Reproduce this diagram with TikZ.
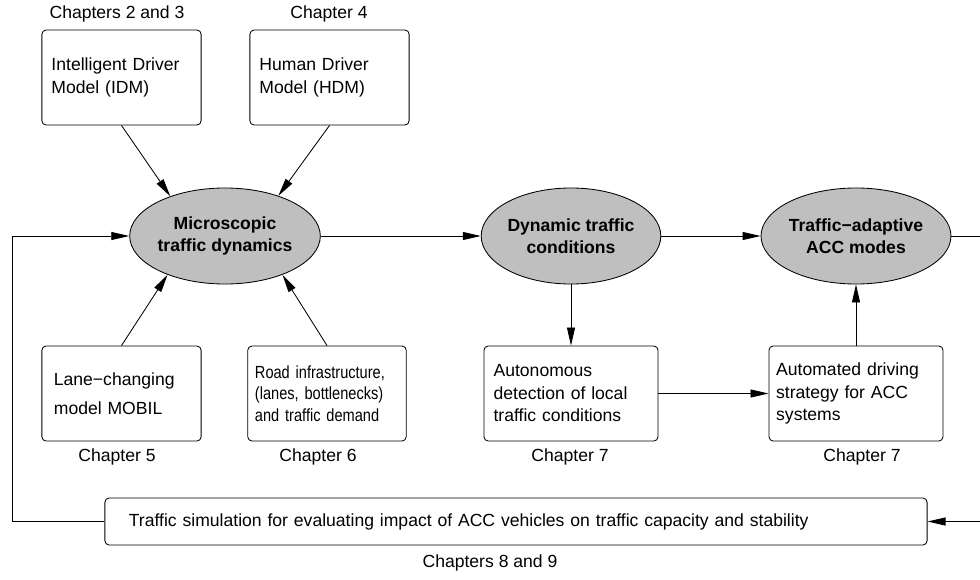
\documentclass[tikz,border=0pt]{standalone}
\usepackage{fontspec}
\setmainfont{Liberation Sans}
\newfontfamily\narrowfont[FakeStretch=0.83]{Liberation Sans}
\usetikzlibrary{arrows.meta,positioning,shapes.geometric}

\begin{document}
\begin{tikzpicture}[
  x=0.025cm, y=-0.025cm,
  font=\fontsize{12.5}{16}\selectfont,
  box/.style={rounded corners=3pt, draw, line width=0.6pt, minimum height=2.375cm, text width=3.5cm, inner xsep=0.24cm, align=left},
  wbox/.style={box, text width=3.87cm},
  ell/.style={ellipse, draw, line width=0.6pt, fill=black!25, minimum width=4.35cm, minimum height=2.4cm, inner sep=0pt, align=center, font=\fontsize{12.5}{15.5}\selectfont\bfseries},
  rel/.style={-{Triangle[length=0.45cm,width=0.2cm]}, line width=0.6pt},
]
\useasboundingbox (0,0) rectangle (980,579);

% model boxes
\node[box] (idm) at (121.5,77.5) {Intelligent Driver\\Model (IDM)};
\node[box] (hdm) at (329.5,77.5) {Human Driver\\Model (HDM)};
\node[box, inner xsep=0.3cm, text width=3.38cm] (mobil) at (121.5,393.5) {Lane−changing\\[4.5pt]model MOBIL};
\node[box, inner xsep=0.18cm, text width=3.6cm, font=\narrowfont\fontsize{12.5}{15.2}\selectfont] (road) at (327,393.5) {Road infrastructure,\\(lanes, bottlenecks)\\and traffic demand};
\node[wbox] (detect) at (571,393.5) {Autonomous\\detection of local\\traffic conditions};
\node[wbox, inner xsep=0.18cm, text width=3.99cm] (drive) at (856,393.5) {Automated driving\\strategy for ACC\\systems};

% ellipses
\node[ell] (micro) at (225,236) {Microscopic\\traffic dynamics};
\node[ell] (dyn) at (571,236) {Dynamic traffic\\conditions};
\node[ell] (acc) at (856,236) {Traffic−adaptive\\ACC modes};

% simulation
\node[box, minimum height=1.175cm, text width=19.35cm, inner xsep=0.6cm] (sim) at (516,521.5) {Traffic simulation for evaluating impact of ACC vehicles on traffic capacity and stability};

% chapters
\node (ch23) at (117,14) {Chapters 2 and 3};
\node (ch4) at (329,14) {Chapter 4};
\node (ch5) at (117,457) {Chapter 5};
\node (ch6) at (318,457) {Chapter 6};
\node (ch7a) at (570,457) {Chapter 7};
\node (ch7b) at (862,457) {Chapter 7};
\node (ch89) at (490,563) {Chapters 8 and 9};

% arrows
\draw[rel] (idm.south) -- (micro.144);
\draw[rel] (hdm.south) -- (micro.37);
\draw[rel] (mobil.north) -- (micro.214);
\draw[rel] (road.north) -- (micro.326);
\draw[rel] (micro) -- (dyn);
\draw[rel] (dyn) -- (acc);
\draw[rel] (dyn) -- (detect);
\draw[rel] (detect) -- (drive);
\draw[rel] (drive) -- (acc);

% feedback loop
\coordinate (rturn) at (990,236);
\coordinate (lturn) at (12,236);
\draw[rel] (acc.east) -- (rturn) |- (sim.east);
\draw[rel] (sim.west) -| (lturn) -- (micro.west);

\end{tikzpicture}
\end{document}
